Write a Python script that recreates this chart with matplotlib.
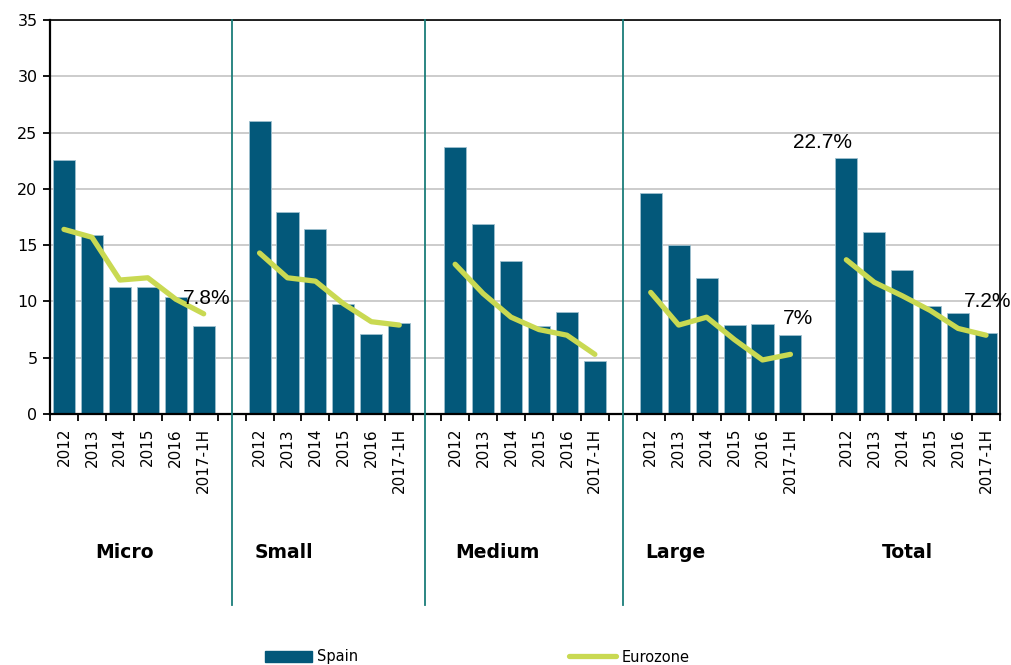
import numpy as np
import matplotlib
matplotlib.use('Agg')
import matplotlib.pyplot as plt
from matplotlib.lines import Line2D
from matplotlib.patches import Patch

years = ['2012', '2013', '2014', '2015', '2016', '2017-1H']
groups = ['Micro', 'Small', 'Medium', 'Large', 'Total']

spain = [
    [22.6, 15.9, 11.3, 11.3, 10.4, 7.8],
    [26.0, 17.9, 16.4, 9.8, 7.1, 8.1],
    [23.7, 16.9, 13.6, 7.8, 9.1, 4.7],
    [19.6, 15.0, 12.1, 7.9, 8.0, 7.0],
    [22.7, 16.2, 12.8, 9.6, 9.0, 7.2],
]
eurozone = [
    [16.4, 15.7, 11.9, 12.1, 10.2, 8.9],
    [14.3, 12.1, 11.8, 9.8, 8.2, 7.9],
    [13.3, 10.7, 8.6, 7.5, 7.0, 5.3],
    [10.8, 7.9, 8.6, 6.6, 4.8, 5.3],
    [13.7, 11.7, 10.5, 9.2, 7.6, 7.0],
]
labels = ['7.8%', '22.7%', '7%', '7.2%']
label_x = [5.12, 27.13, 26.27, 33.07]
label_y = [10.3, 24.1, 8.5, 9.95]
group_label_x = [2.18, 7.86, 15.52, 21.89, 30.19]

BAR = '#03587a'
LINE = '#c9d952'
TEAL = '#1a7d79'

fig = plt.figure(figsize=(10.12, 6.65), dpi=100)
ax = fig.add_axes([50/1012, 1-414/665, 950/1012, 394/665])

ticks_at = []
tick_lbls = []
for g in range(len(groups)):
    x = np.arange(len(years)) + g * 7
    ax.bar(x, spain[g], width=0.79, color=BAR, edgecolor='#9fc0cf', linewidth=0.6, zorder=2)
    ax.plot(x, eurozone[g], color=LINE, lw=3.8, solid_capstyle='round', zorder=3)
    ticks_at.extend(x)
    tick_lbls.extend(years)
    ax.text(group_label_x[g], -12.26, groups[g], ha='center', va='center',
            fontsize=13.5, fontweight='bold', clip_on=False)

# vertical separators between groups
for xs in [6, 12.93, 20]:
    ax.plot([xs, xs], [35, -17], color=TEAL, lw=1.3, clip_on=False, zorder=4)

for t, lx, ly in zip(labels, label_x, label_y):
    ax.text(lx, ly, t, ha='center', va='center', fontsize=15,
            family='Liberation Sans', zorder=5)

ax.set_xlim(-0.5, 33.5)
ax.set_ylim(0, 35)
ax.set_yticks(np.arange(0, 36, 5))
ax.yaxis.grid(True, color='#c4c4c4', lw=1.2, zorder=0)
ax.set_axisbelow(True)

ax.set_xticks(np.arange(-0.5, 34, 1))
ax.set_xticklabels([])
ax.set_xticks(ticks_at, minor=True)
ax.set_xticklabels(tick_lbls, minor=True, rotation=90, fontsize=11)
ax.tick_params(axis='x', which='major', length=5, width=1.3, direction='out')
ax.tick_params(axis='x', which='minor', length=0, pad=10)
ax.tick_params(axis='y', length=5, width=1.3, labelsize=11.5, pad=4)

for s in ['left', 'bottom']:
    ax.spines[s].set_linewidth(1.6)
for s in ['top', 'right']:
    ax.spines[s].set_linewidth(1.2)

handles = [Patch(facecolor=BAR, edgecolor=BAR), Line2D([], [], color=LINE, lw=3.8, solid_capstyle='round')]
fig.legend(handles, ['Spain', 'Eurozone'], loc='center left', ncol=2,
           bbox_to_anchor=(265/1012, 1-657/665), frameon=False, fontsize=10.5,
           handlelength=3.2, handleheight=0.8, handletextpad=0.4, columnspacing=14.45,
           borderpad=0, borderaxespad=0)

fig.savefig('out.png', dpi=100)
